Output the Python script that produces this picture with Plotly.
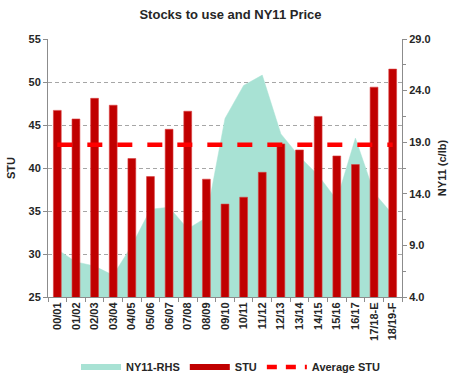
import plotly.graph_objects as go

categories = ["00/01", "01/02", "02/03", "03/04", "04/05", "05/06", "06/07", "07/08",
              "08/09", "09/10", "10/11", "11/12", "12/13", "13/14", "14/15", "15/16",
              "16/17", "17/18-E", "18/19-F"]
stu = [46.7, 45.7, 48.1, 47.3, 41.1, 39.0, 44.5, 46.6, 38.7, 35.8, 36.6, 39.5,
       42.8, 42.1, 46.0, 41.4, 40.4, 49.4, 51.5]
ny11 = [8.6, 7.4, 7.0, 6.1, 9.0, 12.5, 12.7, 10.6, 11.7, 21.3, 24.5, 25.5,
        19.8, 17.6, 15.8, 13.4, 19.4, 14.1, 12.0]
avg_stu_value = 42.7
avg_stu = [avg_stu_value] * len(categories)

MINT = "#A8E2D4"
DARKRED = "#C00000"
RED = "#FF0000"
FONT = "Liberation Sans"
TXT = "#262626"

fig = go.Figure()

# NY11 area on the right axis (base axis so it sits beneath the bars)
fig.add_trace(go.Scatter(x=categories, y=ny11, mode="lines", fill="tozeroy",
                         fillcolor=MINT, line=dict(color=MINT, width=0.5),
                         yaxis="y", showlegend=False, hoverinfo="skip"))
# STU bars on left axis
fig.add_trace(go.Bar(x=categories, y=stu, marker=dict(color=DARKRED,
                     line=dict(color="#D84040", width=0.6)),
                     width=0.42, yaxis="y2", showlegend=False))
# Average STU dashed line
fig.add_trace(go.Scatter(x=categories, y=avg_stu, mode="lines",
                         line=dict(color=RED, width=4.5, dash="15px,15px"),
                         yaxis="y2", showlegend=False))

# legend-only entries
fig.add_trace(go.Scatter(x=[None], y=[None], mode="lines", name="<b>NY11-RHS</b>",
                         line=dict(color=MINT, width=6), yaxis="y2"))
fig.add_trace(go.Scatter(x=[None], y=[None], mode="lines", name="<b>STU</b>",
                         line=dict(color=DARKRED, width=6), yaxis="y2"))
fig.add_trace(go.Scatter(x=[None], y=[None], mode="lines", name="<b>Average STU</b>",
                         line=dict(color=RED, width=4.5, dash="10px,9px"), yaxis="y2"))

tickfont = dict(family=FONT, size=11, color=TXT)

fig.update_layout(
    width=461, height=387,
    margin=dict(l=48, r=59, t=39, b=90),
    paper_bgcolor="white", plot_bgcolor="white",
    font=dict(family=FONT, size=11, color=TXT),
    title=dict(text="<b>Stocks to use and NY11 Price</b>", x=0.5, xanchor="center",
               y=1 - 14 / 387, yanchor="middle",
               font=dict(family=FONT, size=13, color=TXT)),
    showlegend=True,
    legend=dict(orientation="h", x=0.5, xanchor="center", xref="container",
                y=(387 - 367) / 387, yanchor="middle", yref="container",
                font=dict(family=FONT, size=11, color=TXT), traceorder="normal",
                itemwidth=40, bgcolor="rgba(0,0,0,0)"),
    xaxis=dict(type="category", tickangle=-90, tickfont=tickfont,
               showline=True, linecolor="#8C8C8C", linewidth=1,
               ticks="outside", ticklen=4, tickcolor="#8C8C8C", tickson="boundaries",
               showgrid=False, automargin=False,
               tickprefix="<b>", ticksuffix="</b>"),
    yaxis=dict(side="right", range=[4, 29], tick0=4, dtick=5, tickformat=".1f",
               showgrid=False, zeroline=False, showline=True, linecolor="#8C8C8C",
               ticks="outside", ticklen=4, tickcolor="#8C8C8C", tickfont=tickfont,
               tickprefix="<b>", ticksuffix="</b>",
               minor=dict(ticks="outside", ticklen=3, tickcolor="#8C8C8C",
                          tick0=6.5, dtick=5),
               title=dict(text="<b>NY11 (c/lb)</b>", standoff=8,
                          font=dict(family=FONT, size=11, color=TXT)),
               automargin=False),
    yaxis2=dict(side="left", overlaying="y", range=[25, 55], tick0=25, dtick=5,
                showgrid=True, gridcolor="#A6A6A6", griddash="4px,3px", gridwidth=1,
                zeroline=False, showline=True, linecolor="#8C8C8C",
                ticks="outside", ticklen=4, tickcolor="#8C8C8C", tickfont=tickfont,
                tickprefix="<b>", ticksuffix="</b>",
                title=dict(text="<b>STU</b>", standoff=10,
                           font=dict(family=FONT, size=11, color=TXT)),
                automargin=False),
)

fig.write_html("out.html", config={"displayModeBar": False},
               post_script="document.body.style.margin='0';")
